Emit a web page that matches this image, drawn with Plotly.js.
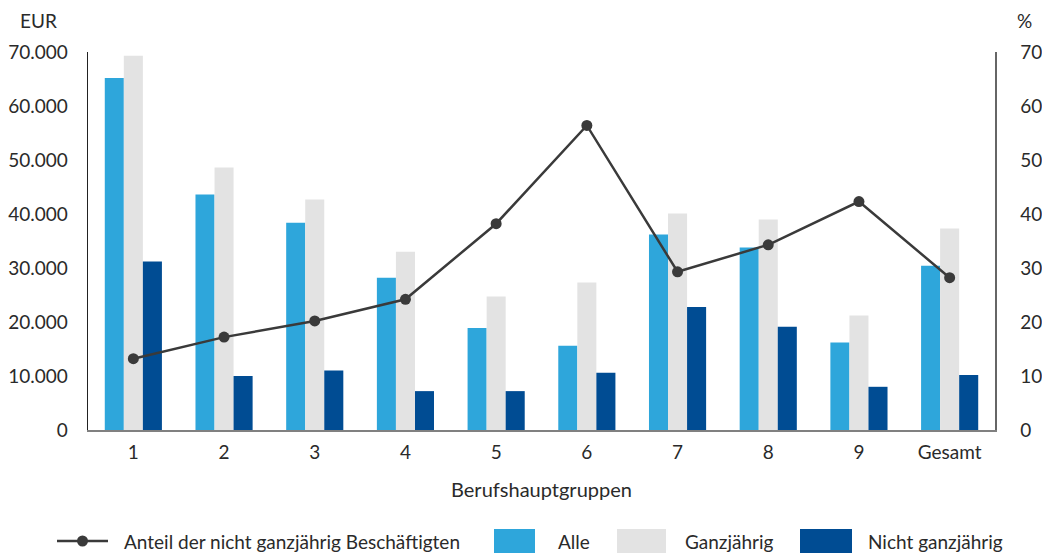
<!DOCTYPE html>
<html>
<head>
<meta charset="utf-8">
<script src="https://cdn.plot.ly/plotly-3.0.1.min.js"></script>
<style>html,body{margin:0;padding:0;background:#fff;}#chart{width:1042px;height:554px;}</style>
</head>
<body>
<div id="chart"></div>
<script>
const categories = ["1","2","3","4","5","6","7","8","9","Gesamt"];
const alle = [65200, 43600, 38400, 28200, 18900, 15600, 36200, 33800, 16200, 30400];
const ganzjaehrig = [69300, 48600, 42700, 33000, 24700, 27300, 40100, 39000, 21200, 37300];
const nichtGanzjaehrig = [31200, 10000, 11000, 7200, 7200, 10600, 22800, 19100, 8000, 10200];
const anteil = [13.2, 17.2, 20.2, 24.2, 38.2, 56.4, 29.3, 34.3, 42.3, 28.2];
const seriesNames = ["Anteil der nicht ganzjährig Beschäftigten", "Alle", "Ganzjährig", "Nicht ganzjährig"];
const seriesColors = ["#3A3A3A", "#2EA6DB", "#E3E3E3", "#004C93"];

const font = "Lato, 'Open Sans', sans-serif";
const data = [
  {type:'bar', name:seriesNames[1], x:categories, y:alle, marker:{color:seriesColors[1]}},
  {type:'bar', name:seriesNames[2], x:categories, y:ganzjaehrig, marker:{color:seriesColors[2]}},
  {type:'bar', name:seriesNames[3], x:categories, y:nichtGanzjaehrig, marker:{color:seriesColors[3]}},
  {type:'scatter', mode:'lines+markers', name:seriesNames[0], x:categories, y:anteil, yaxis:'y2',
   line:{color:seriesColors[0], width:2.5}, marker:{color:seriesColors[0], size:11}}
];

// manual legend (paper coords derived from pixel layout of the plot area)
const L = 88, W = 907, B = 430, H = 378;
const px = v => (v - L) / W;
const py = v => (B - v) / H;
const legY = 541;
const shapes = [
  {type:'line', xref:'paper', yref:'paper', x0:px(57), x1:px(108), y0:py(legY), y1:py(legY), line:{color:seriesColors[0], width:2.5}},
  {type:'circle', xref:'paper', yref:'paper', x0:px(77), x1:px(88), y0:py(legY-5.5), y1:py(legY+5.5), fillcolor:seriesColors[0], line:{width:0}},
  {type:'rect', xref:'paper', yref:'paper', x0:px(494), x1:px(535), y0:py(529), y1:py(553), fillcolor:seriesColors[1], line:{width:0}},
  {type:'rect', xref:'paper', yref:'paper', x0:px(617), x1:px(666), y0:py(529), y1:py(553), fillcolor:seriesColors[2], line:{width:0}},
  {type:'rect', xref:'paper', yref:'paper', x0:px(800), x1:px(852), y0:py(529), y1:py(553), fillcolor:seriesColors[3], line:{width:0}}
];
const legTextX = [122, 556, 683, 866];
const annotations = [
  {text:'EUR', xref:'paper', yref:'paper', x:px(18), y:py(20), xanchor:'left', yanchor:'middle', showarrow:false},
  {text:'%', xref:'paper', yref:'paper', x:px(1015), y:py(20), xanchor:'left', yanchor:'middle', showarrow:false}
].concat(seriesNames.map((n,i)=>({text:n, xref:'paper', yref:'paper', x:px(legTextX[i]), y:py(legY), xanchor:'left', yanchor:'middle', showarrow:false})));

const layout = {
  width:1042, height:554,
  margin:{l:88, r:47, t:52, b:124},
  paper_bgcolor:'#fff', plot_bgcolor:'#fff',
  separators:',.',
  font:{family:font, size:19, color:'#2a2a2a'},
  barmode:'group', bargap:0.37, bargroupgap:0,
  showlegend:false,
  xaxis:{type:'category', range:[-0.5, 9.5], showline:true, linecolor:'#808080', linewidth:1.5, ticks:'', showgrid:false,
    ticklabelstandoff:5, title:{text:'Berufshauptgruppen', standoff:20, font:{size:20}}},
  yaxis:{range:[0,70000], dtick:10000, tickformat:',', showline:true, linecolor:'#222', linewidth:1.3, ticks:'', showgrid:false,
    zeroline:false, ticklabelstandoff:15},
  yaxis2:{range:[0,70], dtick:10, overlaying:'y', side:'right', showline:true, linecolor:'#666', linewidth:1.5, ticks:'', showgrid:false,
    zeroline:false, ticklabelstandoff:20},
  shapes:shapes,
  annotations:annotations
};
Plotly.newPlot('chart', data, layout, {displayModeBar:false, staticPlot:true});
</script>
</body>
</html>
